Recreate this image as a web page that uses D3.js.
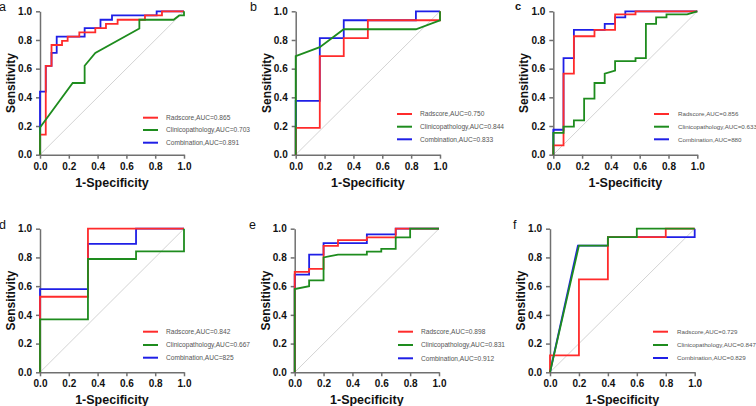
<!DOCTYPE html>
<html><head><meta charset="utf-8">
<script src="https://cdn.jsdelivr.net/npm/d3@7"></script>
<style>
html,body{margin:0;padding:0;background:#fff;}
svg{display:block;font-family:"Liberation Sans",Arial,sans-serif;}
</style></head>
<body><svg id="chart" width="756" height="406"></svg>
<script>
// ---------- data ----------
const panelLetters = ["a", "b", "c", "d", "e", "f"];
const seriesNames = ["Radscore", "Clinicopathology", "Combination"];
const axisTicks = [0, 0.2, 0.4, 0.6, 0.8, 1.0];

const aucA = ["0.865", "0.703", "0.891"];
const aucB = ["0.750", "0.844", "0.833"];
const aucC = ["0.856", "0.633", "880"];
const aucD = ["0.842", "0.667", "825"];
const aucE = ["0.898", "0.831", "0.912"];
const aucF = ["0.729", "0.847", "0.829"];

// panel a
const aRad = [[0,0],[0,0.14],[0.04,0.14],[0.04,0.62],[0.08,0.62],[0.08,0.765],[0.153,0.765],[0.153,0.794],[0.192,0.794],[0.192,0.824],[0.273,0.824],[0.273,0.853],[0.384,0.853],[0.384,0.882],[0.458,0.882],[0.458,0.912],[0.539,0.912],[0.539,0.941],[0.729,0.941],[0.729,0.971],[0.847,0.971],[0.847,1],[1,1]];
const aCli = [[0,0],[0,0.19],[0.227,0.5],[0.31,0.5],[0.31,0.62],[0.384,0.71],[0.69,0.88],[0.69,0.941],[0.928,0.941],[0.967,0.971],[1,0.971],[1,1]];
const aCom = [[0,0],[0,0.44],[0.04,0.44],[0.04,0.62],[0.08,0.62],[0.08,0.71],[0.116,0.71],[0.116,0.824],[0.31,0.824],[0.31,0.882],[0.42,0.882],[0.42,0.941],[0.5,0.941],[0.5,0.971],[0.81,0.971],[0.81,1],[1,1]];
// panel b
const bRad = [[0,0],[0,0.1875],[0.167,0.1875],[0.167,0.6875],[0.333,0.6875],[0.333,0.8125],[0.5,0.8125],[0.5,0.9375],[1,0.9375],[1,1]];
const bCli = [[0,0],[0,0.6875],[0.167,0.75],[0.333,0.875],[0.833,0.875],[1,0.9375],[1,1]];
const bCom = [[0,0],[0,0.375],[0.167,0.375],[0.167,0.8125],[0.333,0.8125],[0.333,0.9375],[0.833,0.9375],[0.833,1],[1,1]];
// panel c
const cRad = [[0,0],[0,0.065],[0.071,0.065],[0.071,0.565],[0.143,0.565],[0.143,0.826],[0.286,0.826],[0.286,0.87],[0.429,0.87],[0.429,0.978],[0.571,0.978],[0.571,1],[1,1]];
const cCli = [[0,0],[0,0.152],[0.071,0.152],[0.071,0.196],[0.143,0.196],[0.143,0.239],[0.214,0.239],[0.214,0.391],[0.286,0.391],[0.286,0.5],[0.357,0.5],[0.357,0.565],[0.429,0.587],[0.429,0.652],[0.571,0.652],[0.571,0.674],[0.643,0.674],[0.643,0.913],[0.714,0.913],[0.714,0.957],[0.786,0.957],[0.786,0.978],[0.929,0.978],[1,1]];
const cCom = [[0,0],[0,0.174],[0.071,0.174],[0.071,0.674],[0.143,0.674],[0.143,0.87],[0.357,0.87],[0.357,0.913],[0.429,0.913],[0.429,0.957],[0.5,0.957],[0.5,1],[1,1]];
// panel d
const dRad = [[0,0],[0,0.526],[0.333,0.526],[0.333,1],[1,1]];
const dCli = [[0,0],[0,0.368],[0.333,0.368],[0.333,0.789],[0.667,0.789],[0.667,0.842],[1,0.842],[1,1]];
const dCom = [[0,0],[0,0.579],[0.333,0.579],[0.333,0.895],[0.667,0.895],[0.667,1],[1,1]];
// panel e
const eRad = [[0,0],[0,0.70],[0.1,0.70],[0.1,0.72],[0.2,0.72],[0.2,0.88],[0.3,0.88],[0.3,0.92],[0.5,0.92],[0.5,0.94],[0.7,0.94],[0.7,1],[1,1]];
const eCli = [[0,0],[0,0.58],[0.1,0.60],[0.1,0.64],[0.2,0.64],[0.2,0.80],[0.3,0.82],[0.5,0.82],[0.5,0.84],[0.6,0.84],[0.6,0.86],[0.7,0.86],[0.7,0.94],[0.8,0.94],[0.8,1],[1,1]];
const eCom = [[0,0],[0,0.68],[0.1,0.68],[0.1,0.82],[0.2,0.82],[0.2,0.90],[0.5,0.90],[0.5,0.96],[0.7,0.96],[0.7,1],[1,1]];
// panel f
const fRad = [[0,0],[0,0.118],[0.2,0.118],[0.2,0.647],[0.4,0.647],[0.4,0.941],[0.8,0.941],[0.8,1],[1,1]];
const fCli = [[0,0],[0.2,0.882],[0.4,0.882],[0.4,0.941],[0.6,0.941],[0.6,1],[1,1]];
const fCom = [[0,0],[0.193,0.882],[0.4,0.882],[0.4,0.941],[1,0.941],[1,1]];

// ---------- layout ----------
const colors = ["#ff2b2b", "#1e8c1e", "#1f1fe6"]; // Radscore, Clinicopathology, Combination
const drawOrder = [2, 0, 1]; // blue under, red, green on top

const panels = [
  {letter: panelLetters[0], series: [aRad, aCli, aCom], auc: aucA, x0: 40,    x1: 184,   y0: 11.3,  y1: 154.7, lx: 143, tx: 166, rows: [117.7,130,142.7], fs: 6.6, letX: -1,  letY: 11, lb: false},
  {letter: panelLetters[1], series: [bRad, bCli, bCom], auc: aucB, x0: 295.7, x1: 440,   y0: 11.3,  y1: 154.7, lx: 397, tx: 420, rows: [114,126.7,139.3], fs: 6.6, letX: 250, letY: 11, lb: false},
  {letter: panelLetters[2], series: [cRad, cCli, cCom], auc: aucC, x0: 553.3, x1: 697.3, y0: 11.3,  y1: 154.7, lx: 654, tx: 678, rows: [114,126.7,139.3], fs: 6.2, letX: 515, letY: 10, lb: true},
  {letter: panelLetters[3], series: [dRad, dCli, dCom], auc: aucD, x0: 40,    x1: 184,   y0: 228.7, y1: 372.3, lx: 143, tx: 166, rows: [331.7,345,357.7], fs: 6.6, letX: -1,  letY: 228.5, lb: false},
  {letter: panelLetters[4], series: [eRad, eCli, eCom], auc: aucE, x0: 294.7, x1: 439,   y0: 228.7, y1: 372.3, lx: 398, tx: 421, rows: [331.7,345,358.3], fs: 6.6, letX: 249, letY: 228.5, lb: false},
  {letter: panelLetters[5], series: [fRad, fCli, fCom], auc: aucF, x0: 550,   x1: 694.7, y0: 228.7, y1: 372.3, lx: 653, tx: 677, rows: [331.7,345,358], fs: 6.2, letX: 513, letY: 228.5, lb: false}
];

const svg = d3.select("#chart");
const fmt = d3.format(".1f");

panels.forEach(p => {
  const x = d3.scaleLinear().domain([0, 1]).range([p.x0, p.x1]);
  const y = d3.scaleLinear().domain([0, 1]).range([p.y1, p.y0]);
  const g = svg.append("g");

  // panel letter
  g.append("text").attr("x", p.letX).attr("y", p.letY)
    .attr("font-size", p.lb ? 11 : 12.5).attr("font-weight", p.lb ? "bold" : "normal")
    .attr("fill", "#111").text(p.letter);

  // reference diagonal
  g.append("line")
    .attr("x1", x(0)).attr("y1", y(0)).attr("x2", x(1)).attr("y2", y(1))
    .attr("stroke", "#c8c8c8").attr("stroke-width", 0.8);

  // axes
  const xa = g.append("g").attr("transform", `translate(0,${p.y1})`)
    .call(d3.axisBottom(x).tickValues(axisTicks).tickFormat(fmt).tickSize(4).tickSizeOuter(0).tickPadding(4));
  const ya = g.append("g").attr("transform", `translate(${p.x0},0)`)
    .call(d3.axisLeft(y).tickValues(axisTicks).tickFormat(fmt).tickSize(4).tickSizeOuter(0).tickPadding(4));
  [xa, ya].forEach(a => {
    a.selectAll("path,line").attr("stroke", "#707070").attr("stroke-width", 1.5);
    a.selectAll("text").attr("font-size", 10).attr("font-weight", "bold").attr("fill", "#111")
      .attr("font-family", "'Liberation Sans',Arial,sans-serif");
  });

  // axis titles
  g.append("text").attr("x", (p.x0 + p.x1) / 2).attr("y", p.y1 + 32)
    .attr("text-anchor", "middle").attr("font-size", 12.5).attr("font-weight", "bold").attr("fill", "#111")
    .text("1-Specificity");
  g.append("text")
    .attr("transform", `translate(${p.x0 - 25},${(p.y0 + p.y1) / 2}) rotate(-90)`)
    .attr("text-anchor", "middle").attr("font-size", 12).attr("font-weight", "bold").attr("fill", "#111")
    .text("Sensitivity");

  // curves
  const line = d3.line().x(d => x(d[0])).y(d => y(d[1]));
  drawOrder.forEach(i => {
    g.append("path").datum(p.series[i])
      .attr("d", line).attr("fill", "none")
      .attr("stroke", colors[i]).attr("stroke-width", 1.8)
      .attr("stroke-linejoin", "miter");
  });

  // legend
  seriesNames.forEach((name, i) => {
    g.append("line").attr("x1", p.lx).attr("x2", p.lx + 15)
      .attr("y1", p.rows[i]).attr("y2", p.rows[i])
      .attr("stroke", colors[i]).attr("stroke-width", 2);
    g.append("text").attr("x", p.tx).attr("y", p.rows[i] + 2.3)
      .attr("font-size", p.fs).attr("fill", "#555")
      .text(`${name},AUC=${p.auc[i]}`);
  });
});
</script>
</body></html>
